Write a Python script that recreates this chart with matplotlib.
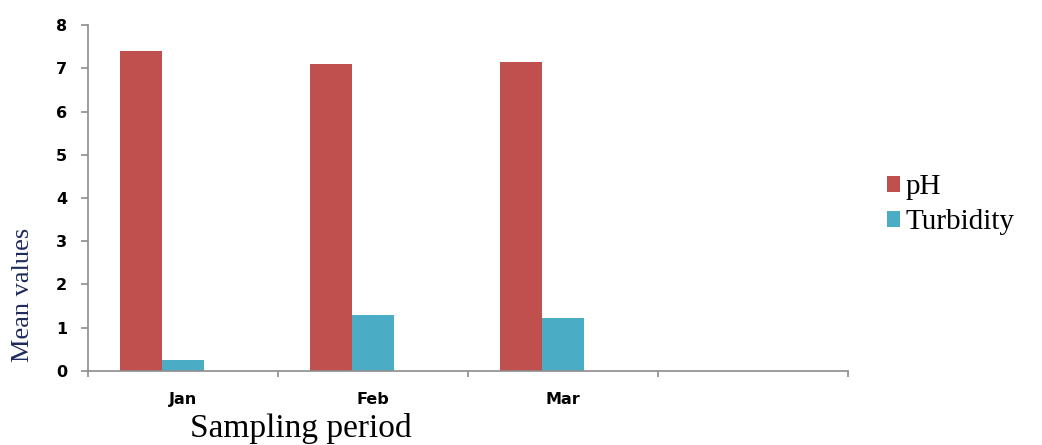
import numpy as np
import matplotlib
matplotlib.use("Agg")
from matplotlib import pyplot as plt

# Mean water quality values per sampling month
months = ["Jan", "Feb", "Mar", ""]
ph = [7.41, 7.09, 7.14, 0]
turbidity = [0.25, 1.30, 1.22, 0]

fig = plt.figure(figsize=(10.42, 4.45), dpi=100)
ax = fig.add_axes([0.0845, 0.1663, 0.7293, 0.7775])

x = np.arange(len(months))
w = 0.221
ax.bar(x - w, ph, width=w, color="#C0504D", label="pH")
ax.bar(x, turbidity, width=w, color="#4BACC6", label="Turbidity")

ax.set_xlim(-0.5, len(months) - 0.5)
ax.set_ylim(0, 8)
ax.set_yticks(range(0, 9))

# category labels at centres, tick marks at the boundaries
ax.set_xticks(x)
ax.set_xticklabels(months)
ax.set_xticks(np.arange(-0.5, len(months)), minor=True)
ax.tick_params(axis="x", which="major", length=0, pad=15)
ax.tick_params(axis="x", which="minor", length=4, color="#8c8c8c", width=1.2)
ax.tick_params(axis="y", length=5, color="#8c8c8c", width=1.2, pad=10)

for lab in ax.get_xticklabels() + ax.get_yticklabels():
    lab.set_fontweight("bold")
    lab.set_fontsize(11.5)
    lab.set_family("DejaVu Sans")

for s in ["top", "right"]:
    ax.spines[s].set_visible(False)
for s in ["left", "bottom"]:
    ax.spines[s].set_color("#8c8c8c")
    ax.spines[s].set_linewidth(1.2)

ax.set_ylabel("Mean values", family="Liberation Serif", fontsize=19,
              color="#1F2A5C", va="center")
ax.yaxis.set_label_coords(-0.086, 0.22)
fig.text(0.289, 0.002, "Sampling period", family="Liberation Serif",
         fontsize=24, ha="center", va="bottom")

leg = fig.legend(loc="center left", bbox_to_anchor=(0.826, 0.54),
                 frameon=False, prop={"family": "Liberation Serif", "size": 21},
                 handlelength=0.45, handleheight=0.45, handletextpad=0.2,
                 labelspacing=0.3)

fig.savefig("out.png", dpi=100)
